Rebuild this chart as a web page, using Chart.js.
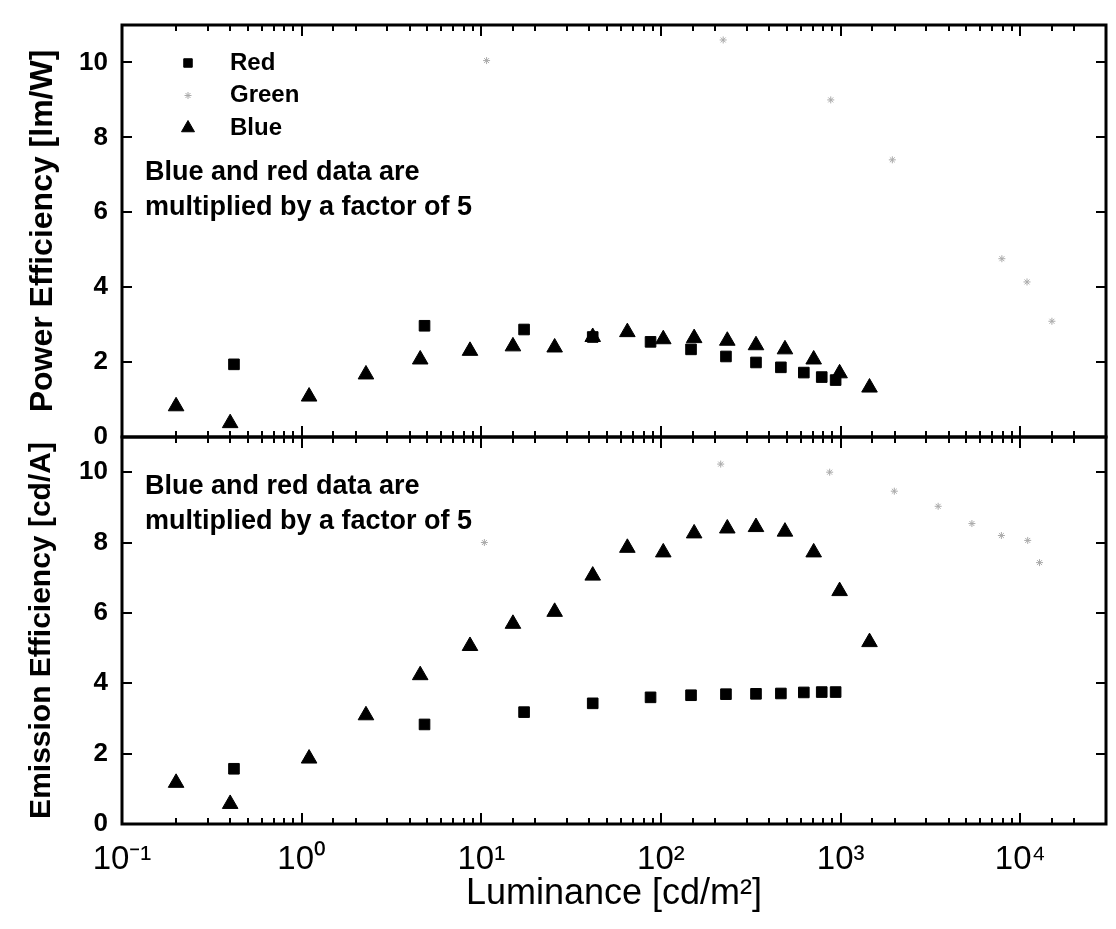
<!DOCTYPE html>
<html>
<head>
<meta charset="utf-8">
<script src="https://cdn.jsdelivr.net/npm/chart.js"></script>
<style>
  body { margin: 0; background: #fff; }
  canvas { display: block; }
</style>
</head>
<body>
<canvas id="grafico" width="1116" height="929"></canvas>
<script>
// luminance of each measured point [cd/m2]
const lumBlue = [0.2, 0.4, 1.1, 2.28, 4.57, 8.65, 15.0, 25.6, 41.7, 65, 103, 153, 234, 338, 490, 708, 987, 1448];
const lumRed = [0.42, 4.83, 17.3, 41.7, 87.5, 147, 230, 338, 465, 624, 785, 938];
const lumGreenP = [10.7, 222, 881, 1940, 7900, 10900, 15000];
const lumGreenE = [10.4, 215, 869, 1990, 3490, 5380, 7850, 11000, 12800];

// power efficiency [lm/W] (blue and red x5)
const powerBlue = [0.82, 0.37, 1.08, 1.67, 2.07, 2.3, 2.42, 2.39, 2.67, 2.8, 2.61, 2.64, 2.57, 2.45, 2.34, 2.07, 1.7, 1.32];
const powerRed = [1.94, 2.97, 2.87, 2.67, 2.54, 2.34, 2.15, 1.99, 1.86, 1.72, 1.6, 1.52];
const powerGreen = [10.05, 10.6, 9.0, 7.4, 4.76, 4.14, 3.09];

// emission efficiency [cd/A] (blue and red x5)
const emisBlue = [1.17, 0.57, 1.86, 3.09, 4.23, 5.06, 5.69, 6.03, 7.06, 7.85, 7.72, 8.26, 8.4, 8.44, 8.31, 7.72, 6.62, 5.17];
const emisRed = [1.57, 2.83, 3.18, 3.43, 3.6, 3.66, 3.69, 3.7, 3.71, 3.74, 3.75, 3.75];
const emisGreen = [8.0, 10.23, 10.0, 9.46, 9.03, 8.54, 8.2, 8.06, 7.43];

const legendLabels = ['Red', 'Green', 'Blue'];
const noteLines = ['Blue and red data are', 'multiplied by a factor of 5'];

const FONT = '"Liberation Sans", Arial, sans-serif';
const SUP = { '-': '\u207B', '0': '\u2070', '1': '\u00B9', '2': '\u00B2', '3': '\u00B3', '4': '\u2074' };

function pts(xs, ys) {
    return xs.map((v, i) => ({ x: v, y: ys[i] }));
}

function isDecade(v) {
    const e = Math.log10(v);
    return Math.abs(e - Math.round(e)) < 1e-6;
}

function decadeLabel(v) {
    if (!isDecade(v)) return '';
    return '10' + String(Math.round(Math.log10(v))).split('').map(ch => SUP[ch]).join('');
}

const red = { pointStyle: 'rect', pointRadius: 7.5, backgroundColor: '#000', borderColor: '#000', borderWidth: 1 };
const blue = { pointStyle: 'triangle', pointRadius: 9, backgroundColor: '#000', borderColor: '#000', borderWidth: 1 };
const green = { pointStyle: 'star', pointRadius: 3.5, backgroundColor: '#aaa', borderColor: '#aaa', borderWidth: 1 };

// frame round each panel with inward ticks on all four sides
const panelFrame = {
    id: 'panelFrame',
    afterDatasetsDraw(chart) {
        const c = chart.ctx, xs = chart.scales.x, area = chart.chartArea;
        c.save();
        c.strokeStyle = '#000';
        ['yP', 'yE'].forEach(id => {
            const ys = chart.scales[id];
            c.lineWidth = 2;
            c.beginPath();
            xs.ticks.forEach(t => {
                const px = Math.round(xs.getPixelForValue(t.value));
                if (px <= area.left + 1 || px >= area.right - 1) return;
                const len = isDecade(t.value) ? 11 : 6;
                c.moveTo(px, ys.bottom); c.lineTo(px, ys.bottom - len);
                c.moveTo(px, ys.top); c.lineTo(px, ys.top + len);
            });
            ys.ticks.forEach(t => {
                const py = Math.round(ys.getPixelForValue(t.value));
                const len = t.value % 2 === 0 ? 10 : 6;
                c.moveTo(area.left, py); c.lineTo(area.left + len, py);
                c.moveTo(area.right, py); c.lineTo(area.right - len, py);
            });
            c.stroke();
            c.lineWidth = 3;
            c.strokeRect(area.left, ys.top, area.right - area.left, ys.bottom - ys.top);
        });
        c.restore();
    }
};

// legend and notes drawn inside the panels
const insideText = {
    id: 'insideText',
    afterDraw(chart) {
        const c = chart.ctx, left = chart.chartArea.left;
        const yP = chart.scales.yP, yE = chart.scales.yE;
        c.save();
        c.textBaseline = 'middle';
        c.font = 'bold 24px ' + FONT;
        legendLabels.forEach((lab, i) => {
            const ds = chart.data.datasets.find(d => d.label === lab);
            const cy = yP.top + 38 + i * 32.5;
            c.fillStyle = ds.backgroundColor;
            c.strokeStyle = ds.borderColor;
            c.lineWidth = 1;
            const r = ds.pointStyle === 'triangle' ? 7.5 : (ds.pointStyle === 'rect' ? 6 : 3.5);
            Chart.helpers.drawPoint(c, { pointStyle: ds.pointStyle, radius: r, borderWidth: 1, rotation: 0 }, left + 66, cy);
            c.fillStyle = '#000';
            c.fillText(lab, left + 108, cy);
        });
        c.font = 'bold 27px ' + FONT;
        noteLines.forEach((line, i) => {
            c.fillText(line, left + 23, yP.top + 148 + i * 35);
            c.fillText(line, left + 23, yE.top + 50 + i * 35);
        });
        c.restore();
    }
};

new Chart(document.getElementById('grafico'), {
    type: 'scatter',
    data: {
        datasets: [
            { label: 'Red', data: pts(lumRed, powerRed), yAxisID: 'yP', ...red },
            { label: 'Green', data: pts(lumGreenP, powerGreen), yAxisID: 'yP', ...green },
            { label: 'Blue', data: pts(lumBlue, powerBlue), yAxisID: 'yP', ...blue },
            { label: 'Red', data: pts(lumRed, emisRed), yAxisID: 'yE', ...red },
            { label: 'Green', data: pts(lumGreenE, emisGreen), yAxisID: 'yE', ...green },
            { label: 'Blue', data: pts(lumBlue, emisBlue), yAxisID: 'yE', ...blue },
        ]
    },
    options: {
        responsive: false,
        animation: false,
        events: [],
        layout: { padding: { top: 25, right: 0, left: 0, bottom: 0 } },
        plugins: { legend: { display: false }, tooltip: { enabled: false } },
        scales: {
            x: {
                type: 'logarithmic',
                min: 0.1,
                max: 30000,
                grid: { display: false },
                border: { display: false },
                ticks: {
                    autoSkip: false,
                    maxRotation: 0,
                    padding: 8,
                    color: '#000',
                    font: { family: FONT, size: 33 },
                    callback: v => decadeLabel(v)
                },
                title: {
                    display: true,
                    text: 'Luminance [cd/m\u00B2]',
                    color: '#000',
                    font: { family: FONT, size: 36 },
                    padding: { top: 0, bottom: 13 }
                },
                afterFit: s => { s.height = 105; }
            },
            yE: {
                position: 'left',
                stack: 'panels',
                stackWeight: 387,
                min: 0,
                max: 11,
                grid: { display: false },
                border: { display: false },
                ticks: {
                    stepSize: 1,
                    padding: 6,
                    color: '#000',
                    font: { family: FONT, size: 26, weight: 'bold' },
                    callback: v => (v % 2 === 0 ? v : '')
                },
                title: {
                    display: true,
                    text: 'Emission Efficiency [cd/A]',
                    color: '#000',
                    font: { family: FONT, size: 30, weight: 'bold' },
                    padding: { top: 24, bottom: 0 }
                },
                afterFit: s => { s.width = 122; }
            },
            yP: {
                position: 'left',
                stack: 'panels',
                stackWeight: 412,
                min: 0,
                max: 11,
                grid: { display: false },
                border: { display: false },
                ticks: {
                    stepSize: 1,
                    padding: 6,
                    color: '#000',
                    font: { family: FONT, size: 26, weight: 'bold' },
                    callback: v => (v % 2 === 0 ? v : '')
                },
                title: {
                    display: true,
                    text: 'Power Efficiency [lm/W]',
                    color: '#000',
                    font: { family: FONT, size: 32, weight: 'bold' },
                    padding: { top: 24, bottom: 0 }
                },
                afterFit: s => { s.width = 122; }
            }
        }
    },
    plugins: [panelFrame, insideText]
});
</script>
</body>
</html>
